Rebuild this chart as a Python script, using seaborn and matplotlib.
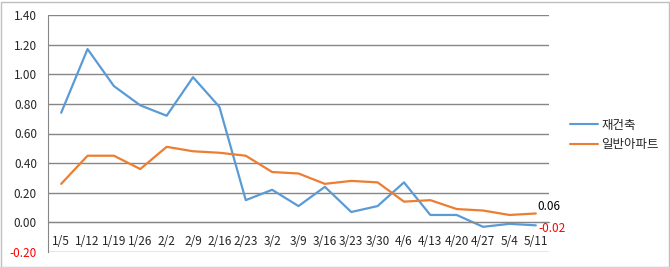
import matplotlib
matplotlib.use("Agg")
import matplotlib.pyplot as plt
import seaborn as sns
import pandas as pd
from matplotlib.patches import Rectangle
from matplotlib.ticker import FixedLocator

dates = ["1/5", "1/12", "1/19", "1/26", "2/2", "2/9", "2/16", "2/23", "3/2", "3/9",
         "3/16", "3/23", "3/30", "4/6", "4/13", "4/20", "4/27", "5/4", "5/11"]
rebuild = [0.74, 1.17, 0.92, 0.79, 0.72, 0.98, 0.78, 0.15, 0.22, 0.11,
           0.24, 0.07, 0.11, 0.27, 0.05, 0.05, -0.03, -0.01, -0.02]
general = [0.26, 0.45, 0.45, 0.36, 0.51, 0.48, 0.47, 0.45, 0.34, 0.33,
           0.26, 0.28, 0.27, 0.14, 0.15, 0.09, 0.08, 0.05, 0.06]
series_names = ["재건축", "일반아파트"]
colors = ["#5B9BD5", "#ED7D31"]
y_ticks = [-0.2, 0.0, 0.2, 0.4, 0.6, 0.8, 1.0, 1.2, 1.4]

sns.set_style("white")
plt.rcParams['font.family'] = ['Noto Sans CJK KR', 'DejaVu Sans']

pos = list(range(len(dates)))
df = pd.DataFrame({
    "pos": pos * 2,
    "value": rebuild + general,
    "series": [series_names[0]] * len(dates) + [series_names[1]] * len(dates),
})

fig = plt.figure(figsize=(6.7, 2.67), dpi=100)
ax = fig.add_axes([48 / 670, 15 / 267, (549 - 48) / 670, (252 - 15) / 267])

sns.lineplot(data=df, x="pos", y="value", hue="series", palette=colors,
             linewidth=1.6, ax=ax, sort=False, legend=True)

ax.set_xlim(-0.5, len(dates) - 0.5)
ax.set_ylim(-0.2, 1.4)
ax.set_yticks(y_ticks)
ax.set_yticklabels([f"{v:.2f}" for v in y_ticks], fontsize=8.5)
for lbl, v in zip(ax.get_yticklabels(), y_ticks):
    if v < 0:
        lbl.set_color("#FF0000")
ax.yaxis.grid(True, color="#868686", linewidth=1.0)
ax.set_axisbelow(True)
ax.set_xlabel("")
ax.set_ylabel("")

for s in ["top", "right"]:
    ax.spines[s].set_visible(False)
ax.spines["left"].set_color("#868686")
ax.spines["bottom"].set_position(("data", 0))
ax.spines["bottom"].set_color("#868686")
ax.tick_params(axis="y", length=0, pad=8)

ax.set_xticks(pos)
ax.set_xticklabels(dates, fontsize=8.5)
ax.xaxis.set_minor_locator(FixedLocator([p - 0.5 for p in pos] + [len(dates) - 0.5]))
ax.tick_params(axis="x", which="major", length=0, pad=9)
ax.tick_params(axis="x", which="minor", length=4, color="#868686", direction="out")

# data labels at last points
ax.annotate(f"{general[-1]:.2f}", (pos[-1], general[-1]), xytext=(1, 5),
            textcoords="offset points", fontsize=8.5, color="#000000",
            ha="left", va="center")
ax.annotate(f"{rebuild[-1]:.2f}", (pos[-1], rebuild[-1]), xytext=(2, -2),
            textcoords="offset points", fontsize=8.5, color="#FF0000",
            ha="left", va="center")

leg = ax.legend(loc="center left", bbox_to_anchor=(1.02, 0.494), frameon=False,
                fontsize=9, handlelength=2.2, handletextpad=0.3, labelspacing=0.5)
for h in leg.get_lines():
    h.set_linewidth(1.5)

fig.patches.append(Rectangle((0.5 / 670, 0.5 / 267), 668 / 670, 265 / 267,
                             transform=fig.transFigure, fill=False,
                             edgecolor="#bfbfbf", linewidth=1))

fig.savefig("out.png", dpi=100)
